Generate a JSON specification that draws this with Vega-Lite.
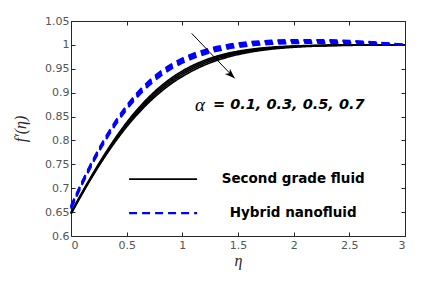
{
  "$schema": "https://vega.github.io/schema/vega-lite/v6.json",
  "width": 334,
  "height": 215,
  "autosize": "none",
  "padding": {"left": 71, "top": 21, "right": 16, "bottom": 45},
  "background": "white",
  "config": {
    "view": {"stroke": "#262626", "strokeWidth": 1},
    "axis": {
      "grid": false,
      "domain": false,
      "labelFont": "DejaVu Sans",
      "labelFontSize": 11,
      "labelColor": "#555555",
      "tickColor": "#262626",
      "tickSize": -4,
      "labelPadding": 6,
      "titleFont": "Liberation Serif",
      "titleFontStyle": "italic",
      "titleFontWeight": "normal",
      "titleFontSize": 16,
      "titleColor": "#262626"
    }
  },
  "datasets": {
    "curves": [
      {"eta":0,"f":0.649,"fluid":"Second grade fluid","alpha":"0.1"},
      {"eta":0.1,"f":0.6913,"fluid":"Second grade fluid","alpha":"0.1"},
      {"eta":0.2,"f":0.7319,"fluid":"Second grade fluid","alpha":"0.1"},
      {"eta":0.3,"f":0.7702,"fluid":"Second grade fluid","alpha":"0.1"},
      {"eta":0.4,"f":0.8055,"fluid":"Second grade fluid","alpha":"0.1"},
      {"eta":0.5,"f":0.8375,"fluid":"Second grade fluid","alpha":"0.1"},
      {"eta":0.6,"f":0.8659,"fluid":"Second grade fluid","alpha":"0.1"},
      {"eta":0.7,"f":0.8908,"fluid":"Second grade fluid","alpha":"0.1"},
      {"eta":0.8,"f":0.9122,"fluid":"Second grade fluid","alpha":"0.1"},
      {"eta":0.9,"f":0.9303,"fluid":"Second grade fluid","alpha":"0.1"},
      {"eta":1.0,"f":0.9454,"fluid":"Second grade fluid","alpha":"0.1"},
      {"eta":1.2,"f":0.9677,"fluid":"Second grade fluid","alpha":"0.1"},
      {"eta":1.4,"f":0.9819,"fluid":"Second grade fluid","alpha":"0.1"},
      {"eta":1.6,"f":0.9903,"fluid":"Second grade fluid","alpha":"0.1"},
      {"eta":1.8,"f":0.9951,"fluid":"Second grade fluid","alpha":"0.1"},
      {"eta":2.0,"f":0.9976,"fluid":"Second grade fluid","alpha":"0.1"},
      {"eta":2.25,"f":0.9991,"fluid":"Second grade fluid","alpha":"0.1"},
      {"eta":2.5,"f":0.9997,"fluid":"Second grade fluid","alpha":"0.1"},
      {"eta":2.75,"f":0.9999,"fluid":"Second grade fluid","alpha":"0.1"},
      {"eta":3.0,"f":1.0,"fluid":"Second grade fluid","alpha":"0.1"},
      {"eta":0,"f":0.648,"fluid":"Second grade fluid","alpha":"0.3"},
      {"eta":0.1,"f":0.6902,"fluid":"Second grade fluid","alpha":"0.3"},
      {"eta":0.2,"f":0.7305,"fluid":"Second grade fluid","alpha":"0.3"},
      {"eta":0.3,"f":0.7683,"fluid":"Second grade fluid","alpha":"0.3"},
      {"eta":0.4,"f":0.8031,"fluid":"Second grade fluid","alpha":"0.3"},
      {"eta":0.5,"f":0.8346,"fluid":"Second grade fluid","alpha":"0.3"},
      {"eta":0.6,"f":0.8626,"fluid":"Second grade fluid","alpha":"0.3"},
      {"eta":0.7,"f":0.8872,"fluid":"Second grade fluid","alpha":"0.3"},
      {"eta":0.8,"f":0.9085,"fluid":"Second grade fluid","alpha":"0.3"},
      {"eta":0.9,"f":0.9266,"fluid":"Second grade fluid","alpha":"0.3"},
      {"eta":1.0,"f":0.9418,"fluid":"Second grade fluid","alpha":"0.3"},
      {"eta":1.2,"f":0.9647,"fluid":"Second grade fluid","alpha":"0.3"},
      {"eta":1.4,"f":0.9795,"fluid":"Second grade fluid","alpha":"0.3"},
      {"eta":1.6,"f":0.9887,"fluid":"Second grade fluid","alpha":"0.3"},
      {"eta":1.8,"f":0.994,"fluid":"Second grade fluid","alpha":"0.3"},
      {"eta":2.0,"f":0.997,"fluid":"Second grade fluid","alpha":"0.3"},
      {"eta":2.25,"f":0.9988,"fluid":"Second grade fluid","alpha":"0.3"},
      {"eta":2.5,"f":0.9996,"fluid":"Second grade fluid","alpha":"0.3"},
      {"eta":2.75,"f":0.9999,"fluid":"Second grade fluid","alpha":"0.3"},
      {"eta":3.0,"f":1.0,"fluid":"Second grade fluid","alpha":"0.3"},
      {"eta":0,"f":0.647,"fluid":"Second grade fluid","alpha":"0.5"},
      {"eta":0.1,"f":0.6891,"fluid":"Second grade fluid","alpha":"0.5"},
      {"eta":0.2,"f":0.7291,"fluid":"Second grade fluid","alpha":"0.5"},
      {"eta":0.3,"f":0.7664,"fluid":"Second grade fluid","alpha":"0.5"},
      {"eta":0.4,"f":0.8006,"fluid":"Second grade fluid","alpha":"0.5"},
      {"eta":0.5,"f":0.8316,"fluid":"Second grade fluid","alpha":"0.5"},
      {"eta":0.6,"f":0.8592,"fluid":"Second grade fluid","alpha":"0.5"},
      {"eta":0.7,"f":0.8835,"fluid":"Second grade fluid","alpha":"0.5"},
      {"eta":0.8,"f":0.9046,"fluid":"Second grade fluid","alpha":"0.5"},
      {"eta":0.9,"f":0.9227,"fluid":"Second grade fluid","alpha":"0.5"},
      {"eta":1.0,"f":0.938,"fluid":"Second grade fluid","alpha":"0.5"},
      {"eta":1.2,"f":0.9614,"fluid":"Second grade fluid","alpha":"0.5"},
      {"eta":1.4,"f":0.9769,"fluid":"Second grade fluid","alpha":"0.5"},
      {"eta":1.6,"f":0.9868,"fluid":"Second grade fluid","alpha":"0.5"},
      {"eta":1.8,"f":0.9927,"fluid":"Second grade fluid","alpha":"0.5"},
      {"eta":2.0,"f":0.9962,"fluid":"Second grade fluid","alpha":"0.5"},
      {"eta":2.25,"f":0.9984,"fluid":"Second grade fluid","alpha":"0.5"},
      {"eta":2.5,"f":0.9994,"fluid":"Second grade fluid","alpha":"0.5"},
      {"eta":2.75,"f":0.9998,"fluid":"Second grade fluid","alpha":"0.5"},
      {"eta":3.0,"f":1.0,"fluid":"Second grade fluid","alpha":"0.5"},
      {"eta":0,"f":0.646,"fluid":"Second grade fluid","alpha":"0.7"},
      {"eta":0.1,"f":0.6881,"fluid":"Second grade fluid","alpha":"0.7"},
      {"eta":0.2,"f":0.7277,"fluid":"Second grade fluid","alpha":"0.7"},
      {"eta":0.3,"f":0.7644,"fluid":"Second grade fluid","alpha":"0.7"},
      {"eta":0.4,"f":0.7981,"fluid":"Second grade fluid","alpha":"0.7"},
      {"eta":0.5,"f":0.8286,"fluid":"Second grade fluid","alpha":"0.7"},
      {"eta":0.6,"f":0.8557,"fluid":"Second grade fluid","alpha":"0.7"},
      {"eta":0.7,"f":0.8797,"fluid":"Second grade fluid","alpha":"0.7"},
      {"eta":0.8,"f":0.9006,"fluid":"Second grade fluid","alpha":"0.7"},
      {"eta":0.9,"f":0.9187,"fluid":"Second grade fluid","alpha":"0.7"},
      {"eta":1.0,"f":0.934,"fluid":"Second grade fluid","alpha":"0.7"},
      {"eta":1.2,"f":0.9578,"fluid":"Second grade fluid","alpha":"0.7"},
      {"eta":1.4,"f":0.9739,"fluid":"Second grade fluid","alpha":"0.7"},
      {"eta":1.6,"f":0.9845,"fluid":"Second grade fluid","alpha":"0.7"},
      {"eta":1.8,"f":0.9911,"fluid":"Second grade fluid","alpha":"0.7"},
      {"eta":2.0,"f":0.9951,"fluid":"Second grade fluid","alpha":"0.7"},
      {"eta":2.25,"f":0.9978,"fluid":"Second grade fluid","alpha":"0.7"},
      {"eta":2.5,"f":0.9991,"fluid":"Second grade fluid","alpha":"0.7"},
      {"eta":2.75,"f":0.9996,"fluid":"Second grade fluid","alpha":"0.7"},
      {"eta":3.0,"f":1.0,"fluid":"Second grade fluid","alpha":"0.7"},
      {"eta":0,"f":0.663,"fluid":"Hybrid nanofluid","alpha":"0.1"},
      {"eta":0.1,"f":0.7136,"fluid":"Hybrid nanofluid","alpha":"0.1"},
      {"eta":0.2,"f":0.7604,"fluid":"Hybrid nanofluid","alpha":"0.1"},
      {"eta":0.3,"f":0.8028,"fluid":"Hybrid nanofluid","alpha":"0.1"},
      {"eta":0.4,"f":0.8403,"fluid":"Hybrid nanofluid","alpha":"0.1"},
      {"eta":0.5,"f":0.873,"fluid":"Hybrid nanofluid","alpha":"0.1"},
      {"eta":0.6,"f":0.9009,"fluid":"Hybrid nanofluid","alpha":"0.1"},
      {"eta":0.7,"f":0.9242,"fluid":"Hybrid nanofluid","alpha":"0.1"},
      {"eta":0.8,"f":0.9435,"fluid":"Hybrid nanofluid","alpha":"0.1"},
      {"eta":0.9,"f":0.9592,"fluid":"Hybrid nanofluid","alpha":"0.1"},
      {"eta":1.0,"f":0.9717,"fluid":"Hybrid nanofluid","alpha":"0.1"},
      {"eta":1.2,"f":0.9893,"fluid":"Hybrid nanofluid","alpha":"0.1"},
      {"eta":1.4,"f":0.9997,"fluid":"Hybrid nanofluid","alpha":"0.1"},
      {"eta":1.6,"f":1.0058,"fluid":"Hybrid nanofluid","alpha":"0.1"},
      {"eta":1.8,"f":1.0089,"fluid":"Hybrid nanofluid","alpha":"0.1"},
      {"eta":2.0,"f":1.0102,"fluid":"Hybrid nanofluid","alpha":"0.1"},
      {"eta":2.25,"f":1.0102,"fluid":"Hybrid nanofluid","alpha":"0.1"},
      {"eta":2.5,"f":1.0086,"fluid":"Hybrid nanofluid","alpha":"0.1"},
      {"eta":2.75,"f":1.0052,"fluid":"Hybrid nanofluid","alpha":"0.1"},
      {"eta":3.0,"f":1.0,"fluid":"Hybrid nanofluid","alpha":"0.1"},
      {"eta":0,"f":0.661,"fluid":"Hybrid nanofluid","alpha":"0.3"},
      {"eta":0.1,"f":0.7118,"fluid":"Hybrid nanofluid","alpha":"0.3"},
      {"eta":0.2,"f":0.7585,"fluid":"Hybrid nanofluid","alpha":"0.3"},
      {"eta":0.3,"f":0.8006,"fluid":"Hybrid nanofluid","alpha":"0.3"},
      {"eta":0.4,"f":0.8378,"fluid":"Hybrid nanofluid","alpha":"0.3"},
      {"eta":0.5,"f":0.8703,"fluid":"Hybrid nanofluid","alpha":"0.3"},
      {"eta":0.6,"f":0.8979,"fluid":"Hybrid nanofluid","alpha":"0.3"},
      {"eta":0.7,"f":0.9212,"fluid":"Hybrid nanofluid","alpha":"0.3"},
      {"eta":0.8,"f":0.9405,"fluid":"Hybrid nanofluid","alpha":"0.3"},
      {"eta":0.9,"f":0.9561,"fluid":"Hybrid nanofluid","alpha":"0.3"},
      {"eta":1.0,"f":0.9688,"fluid":"Hybrid nanofluid","alpha":"0.3"},
      {"eta":1.2,"f":0.9865,"fluid":"Hybrid nanofluid","alpha":"0.3"},
      {"eta":1.4,"f":0.9973,"fluid":"Hybrid nanofluid","alpha":"0.3"},
      {"eta":1.6,"f":1.0034,"fluid":"Hybrid nanofluid","alpha":"0.3"},
      {"eta":1.8,"f":1.0065,"fluid":"Hybrid nanofluid","alpha":"0.3"},
      {"eta":2.0,"f":1.0081,"fluid":"Hybrid nanofluid","alpha":"0.3"},
      {"eta":2.25,"f":1.0082,"fluid":"Hybrid nanofluid","alpha":"0.3"},
      {"eta":2.5,"f":1.007,"fluid":"Hybrid nanofluid","alpha":"0.3"},
      {"eta":2.75,"f":1.0043,"fluid":"Hybrid nanofluid","alpha":"0.3"},
      {"eta":3.0,"f":1.0,"fluid":"Hybrid nanofluid","alpha":"0.3"},
      {"eta":0,"f":0.659,"fluid":"Hybrid nanofluid","alpha":"0.5"},
      {"eta":0.1,"f":0.7099,"fluid":"Hybrid nanofluid","alpha":"0.5"},
      {"eta":0.2,"f":0.7565,"fluid":"Hybrid nanofluid","alpha":"0.5"},
      {"eta":0.3,"f":0.7984,"fluid":"Hybrid nanofluid","alpha":"0.5"},
      {"eta":0.4,"f":0.8354,"fluid":"Hybrid nanofluid","alpha":"0.5"},
      {"eta":0.5,"f":0.8676,"fluid":"Hybrid nanofluid","alpha":"0.5"},
      {"eta":0.6,"f":0.895,"fluid":"Hybrid nanofluid","alpha":"0.5"},
      {"eta":0.7,"f":0.9182,"fluid":"Hybrid nanofluid","alpha":"0.5"},
      {"eta":0.8,"f":0.9374,"fluid":"Hybrid nanofluid","alpha":"0.5"},
      {"eta":0.9,"f":0.9531,"fluid":"Hybrid nanofluid","alpha":"0.5"},
      {"eta":1.0,"f":0.9657,"fluid":"Hybrid nanofluid","alpha":"0.5"},
      {"eta":1.2,"f":0.9837,"fluid":"Hybrid nanofluid","alpha":"0.5"},
      {"eta":1.4,"f":0.9946,"fluid":"Hybrid nanofluid","alpha":"0.5"},
      {"eta":1.6,"f":1.0009,"fluid":"Hybrid nanofluid","alpha":"0.5"},
      {"eta":1.8,"f":1.0042,"fluid":"Hybrid nanofluid","alpha":"0.5"},
      {"eta":2.0,"f":1.0059,"fluid":"Hybrid nanofluid","alpha":"0.5"},
      {"eta":2.25,"f":1.0062,"fluid":"Hybrid nanofluid","alpha":"0.5"},
      {"eta":2.5,"f":1.0054,"fluid":"Hybrid nanofluid","alpha":"0.5"},
      {"eta":2.75,"f":1.0033,"fluid":"Hybrid nanofluid","alpha":"0.5"},
      {"eta":3.0,"f":1.0,"fluid":"Hybrid nanofluid","alpha":"0.5"},
      {"eta":0,"f":0.657,"fluid":"Hybrid nanofluid","alpha":"0.7"},
      {"eta":0.1,"f":0.708,"fluid":"Hybrid nanofluid","alpha":"0.7"},
      {"eta":0.2,"f":0.7545,"fluid":"Hybrid nanofluid","alpha":"0.7"},
      {"eta":0.3,"f":0.7962,"fluid":"Hybrid nanofluid","alpha":"0.7"},
      {"eta":0.4,"f":0.8329,"fluid":"Hybrid nanofluid","alpha":"0.7"},
      {"eta":0.5,"f":0.8648,"fluid":"Hybrid nanofluid","alpha":"0.7"},
      {"eta":0.6,"f":0.8921,"fluid":"Hybrid nanofluid","alpha":"0.7"},
      {"eta":0.7,"f":0.915,"fluid":"Hybrid nanofluid","alpha":"0.7"},
      {"eta":0.8,"f":0.9342,"fluid":"Hybrid nanofluid","alpha":"0.7"},
      {"eta":0.9,"f":0.9498,"fluid":"Hybrid nanofluid","alpha":"0.7"},
      {"eta":1.0,"f":0.9625,"fluid":"Hybrid nanofluid","alpha":"0.7"},
      {"eta":1.2,"f":0.9807,"fluid":"Hybrid nanofluid","alpha":"0.7"},
      {"eta":1.4,"f":0.9918,"fluid":"Hybrid nanofluid","alpha":"0.7"},
      {"eta":1.6,"f":0.9983,"fluid":"Hybrid nanofluid","alpha":"0.7"},
      {"eta":1.8,"f":1.0019,"fluid":"Hybrid nanofluid","alpha":"0.7"},
      {"eta":2.0,"f":1.0036,"fluid":"Hybrid nanofluid","alpha":"0.7"},
      {"eta":2.25,"f":1.0042,"fluid":"Hybrid nanofluid","alpha":"0.7"},
      {"eta":2.5,"f":1.0037,"fluid":"Hybrid nanofluid","alpha":"0.7"},
      {"eta":2.75,"f":1.0024,"fluid":"Hybrid nanofluid","alpha":"0.7"},
      {"eta":3.0,"f":1.0,"fluid":"Hybrid nanofluid","alpha":"0.7"}
    ],
    "arrow": [
      {"x1": 1.084, "y1": 1.024, "x2": 1.47, "y2": 0.93}
    ],
    "labels": [
      {"x": 1.114, "y": 0.874, "part": "symbol", "text": "α"},
      {"x": 1.275, "y": 0.874, "part": "values", "text": "= 0.1, 0.3, 0.5, 0.7"}
    ]
  },
  "layer": [
    {
      "data": {"name": "curves"},
      "mark": {"type": "line", "interpolate": "monotone"},
      "encoding": {
        "x": {
          "field": "eta", "type": "quantitative",
          "scale": {"domain": [0, 3], "nice": false, "zero": false},
          "axis": {"values": [0, 0.5, 1, 1.5, 2, 2.5, 3], "format": "~g", "title": "η", "titlePadding": 2, "labelPadding": 7}
        },
        "y": {
          "field": "f", "type": "quantitative",
          "scale": {"domain": [0.6, 1.05], "nice": false, "zero": false},
          "axis": {"values": [0.6, 0.65, 0.7, 0.75, 0.8, 0.85, 0.9, 0.95, 1, 1.05], "format": "~g", "title": "f′(η)", "titlePadding": 16}
        },
        "color": {
          "field": "fluid", "type": "nominal",
          "scale": {"domain": ["Second grade fluid", "Hybrid nanofluid"], "range": ["#000000", "#0000ff"]},
          "legend": {"orient": "none", "legendX": 79.6, "legendY": 145.6, "title": null, "symbolType": "M-3,0 H3", "symbolSize": 514, "symbolStrokeWidth": 2.2, "labelFont": "DejaVu Sans", "labelFontWeight": "bold", "labelFontSize": 13.5, "labelColor": "#000000", "labelAlign": "center", "labelOffset": 117.6, "rowPadding": 15, "padding": 0, "labelLimit": 300}
        },
        "strokeDash": {
          "field": "fluid", "type": "nominal",
          "scale": {"domain": ["Second grade fluid", "Hybrid nanofluid"], "range": [[1, 0], [8, 5]]},
          "legend": {"orient": "none", "legendX": 79.6, "legendY": 145.6, "title": null, "symbolType": "M-3,0 H3", "symbolSize": 514, "symbolStrokeWidth": 2.2, "labelFont": "DejaVu Sans", "labelFontWeight": "bold", "labelFontSize": 13.5, "labelColor": "#000000", "labelAlign": "center", "labelOffset": 117.6, "rowPadding": 15, "padding": 0, "labelLimit": 300}
        },
        "strokeWidth": {
          "field": "fluid", "type": "nominal",
          "scale": {"domain": ["Second grade fluid", "Hybrid nanofluid"], "range": [1.7, 2.2]},
          "legend": null
        },
        "detail": {"field": "alpha", "type": "nominal"}
      }
    },
    {
      "data": {"name": "arrow"},
      "mark": {"type": "rule", "color": "#000000", "strokeWidth": 1},
      "encoding": {
        "x": {"field": "x1", "type": "quantitative", "scale": {"domain": [0, 3], "nice": false, "zero": false}, "axis": {"orient": "top", "values": [0, 0.5, 1, 1.5, 2, 2.5, 3], "labels": false, "title": null}},
        "y": {"field": "y1", "type": "quantitative", "scale": {"domain": [0.6, 1.05], "nice": false, "zero": false}, "axis": {"orient": "right", "values": [0.6, 0.65, 0.7, 0.75, 0.8, 0.85, 0.9, 0.95, 1, 1.05], "labels": false, "title": null}},
        "x2": {"field": "x2"},
        "y2": {"field": "y2"}
      }
    },
    {
      "data": {"name": "arrow"},
      "mark": {"type": "point", "shape": "M0,0 L0.55,1.5 L0,1.1 L-0.55,1.5 Z", "filled": true, "color": "#000000", "size": 180, "angle": 134, "opacity": 1},
      "encoding": {
        "x": {"field": "x2", "type": "quantitative", "axis": null},
        "y": {"field": "y2", "type": "quantitative", "axis": null}
      }
    },
    {
      "data": {"name": "labels"},
      "transform": [{"filter": "datum.part === 'symbol'"}],
      "mark": {"type": "text", "font": "Liberation Serif", "fontStyle": "italic", "fontSize": 19, "align": "left", "baseline": "middle", "color": "#000000"},
      "encoding": {
        "x": {"field": "x", "type": "quantitative", "axis": null},
        "y": {"field": "y", "type": "quantitative", "axis": null},
        "text": {"field": "text"}
      }
    },
    {
      "data": {"name": "labels"},
      "transform": [{"filter": "datum.part === 'values'"}],
      "mark": {"type": "text", "font": "DejaVu Sans", "fontStyle": "italic", "fontWeight": "bold", "fontSize": 14.5, "align": "left", "baseline": "middle", "color": "#000000"},
      "encoding": {
        "x": {"field": "x", "type": "quantitative", "axis": null},
        "y": {"field": "y", "type": "quantitative", "axis": null},
        "text": {"field": "text"}
      }
    }
  ],
  "resolve": {"axis": {"x": "independent", "y": "independent"}}
}
